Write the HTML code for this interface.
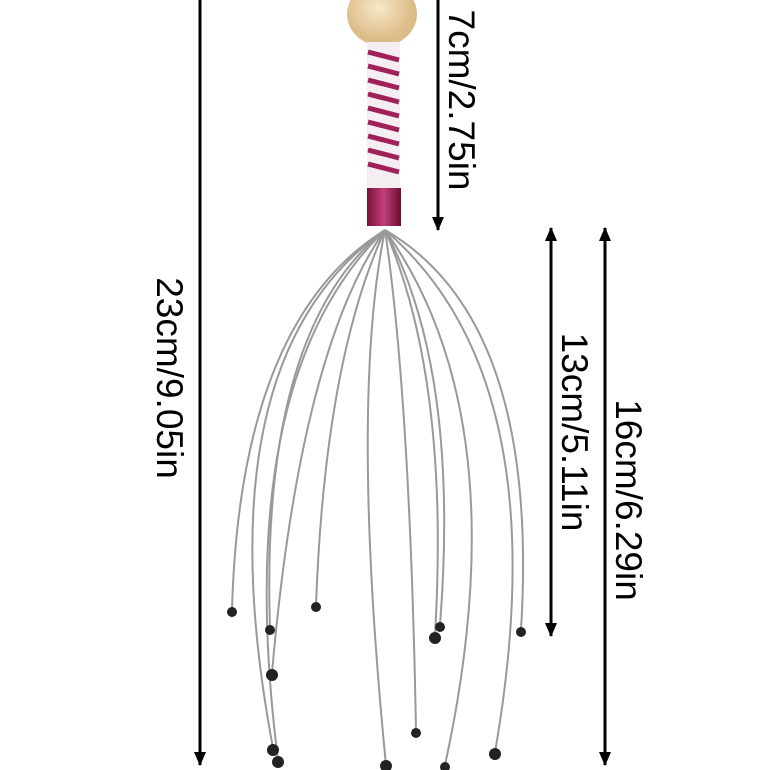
<html><body style="margin:0;background:#fff">
<svg width="770" height="770" viewBox="0 0 770 770" xmlns="http://www.w3.org/2000/svg" style="display:block">
<defs>
<marker id="a" markerWidth="14" markerHeight="12" refX="13" refY="6" orient="auto-start-reverse" markerUnits="userSpaceOnUse"><path d="M0,0 L14,6 L0,12Z" fill="#000"/></marker>
<linearGradient id="r" x1="0" x2="1"><stop offset="0" stop-color="#7a1038"/><stop offset=".5" stop-color="#c0407a"/><stop offset="1" stop-color="#6a0c30"/></linearGradient>
<radialGradient id="w" cx=".45" cy=".4"><stop offset="0" stop-color="#f7e8c8"/><stop offset="1" stop-color="#dcbc88"/></radialGradient>
</defs>
<g stroke="#000" stroke-width="3">
<line x1="200" y1="0" x2="200" y2="765" marker-end="url(#a)"/>
<line x1="438" y1="0" x2="438" y2="230" marker-end="url(#a)"/>
<line x1="551" y1="228" x2="551" y2="636" marker-start="url(#a)" marker-end="url(#a)"/>
<line x1="605" y1="228" x2="605" y2="765" marker-start="url(#a)" marker-end="url(#a)"/>
</g>
<g font-family="Liberation Sans, sans-serif" font-size="37" fill="#000" text-anchor="middle">
<text transform="translate(157,378) rotate(90)">23cm/9.05in</text>
<text transform="translate(449,100) rotate(90)">7cm/2.75in</text>
<text transform="translate(562,432) rotate(90)">13cm/5.11in</text>
<text transform="translate(616,500) rotate(90)">16cm/6.29in</text>
</g>
<ellipse cx="382" cy="14" rx="35" ry="32" fill="url(#w)"/>
<rect x="367" y="42" width="33" height="148" fill="#f4eef2"/>
<g stroke="#a02058" stroke-width="5">
<line x1="368" y1="52" x2="399" y2="60"/><line x1="368" y1="66" x2="399" y2="74"/><line x1="368" y1="80" x2="399" y2="88"/><line x1="368" y1="94" x2="399" y2="102"/><line x1="368" y1="108" x2="399" y2="116"/><line x1="368" y1="122" x2="399" y2="130"/><line x1="368" y1="136" x2="399" y2="144"/><line x1="368" y1="150" x2="399" y2="158"/><line x1="368" y1="164" x2="399" y2="172"/>
</g>
<rect x="367" y="188" width="34" height="38" fill="url(#r)"/>
<g fill="none" stroke="#999" stroke-width="2">
<path d="M385,230 Q240,320 232,610"/>
<path d="M385,230 Q260,330 270,628"/>
<path d="M385,230 Q300,350 272,673"/>
<path d="M385,230 Q325,360 316,605"/>
<path d="M385,230 Q200,360 273,748"/>
<path d="M385,230 Q230,380 278,760"/>
<path d="M385,230 Q350,400 386,765"/>
<path d="M385,230 Q410,400 416,731"/>
<path d="M385,230 Q450,380 435,635"/>
<path d="M385,230 Q460,370 440,625"/>
<path d="M385,230 Q540,320 521,630"/>
<path d="M385,230 Q560,380 495,752"/>
<path d="M385,230 Q520,420 445,765"/>
</g>
<g fill="#222">
<circle cx="232" cy="612" r="5"/><circle cx="270" cy="630" r="5"/><circle cx="272" cy="675" r="6"/><circle cx="316" cy="607" r="5"/><circle cx="273" cy="750" r="6"/><circle cx="278" cy="762" r="6"/><circle cx="386" cy="766" r="6"/><circle cx="416" cy="733" r="5"/><circle cx="435" cy="638" r="6"/><circle cx="440" cy="627" r="5"/><circle cx="521" cy="632" r="5"/><circle cx="495" cy="754" r="6"/><circle cx="445" cy="767" r="5"/>
</g>
</svg>
</body></html>
